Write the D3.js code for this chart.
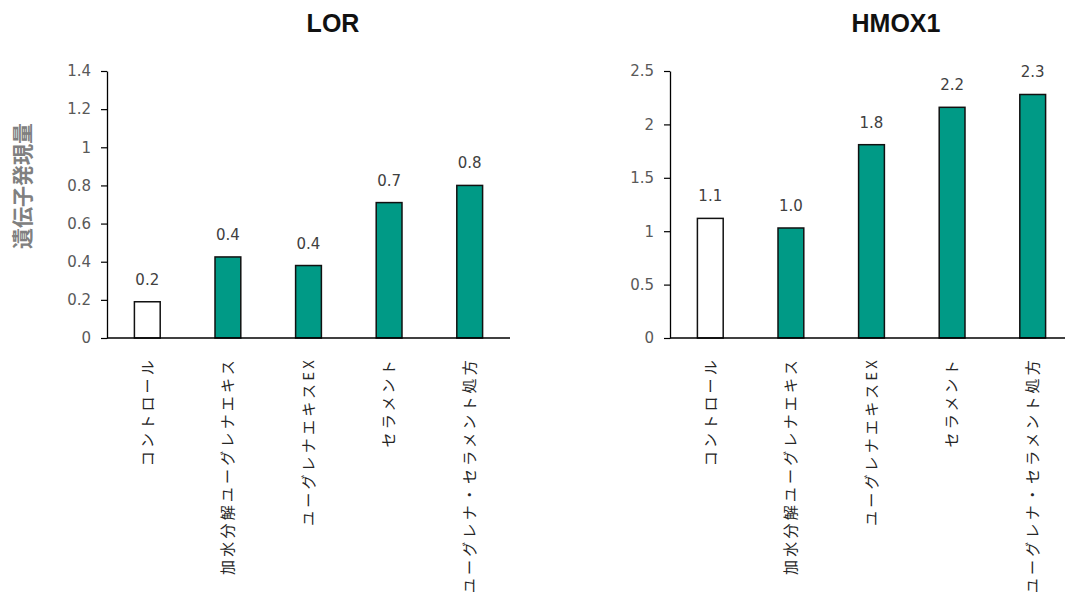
<!DOCTYPE html>
<html>
<head>
<meta charset="utf-8">
<script src="https://cdn.jsdelivr.net/npm/d3@7/dist/d3.min.js"></script>
<style>
  html, body { margin: 0; padding: 0; background: #fff; }
  svg { display: block; }
</style>
</head>
<body>
<svg id="chart" width="1065" height="607"></svg>
<script>
// Treatment groups shared by both panels
const categories = [
  "コントロール",
  "加水分解ユーグレナエキス",
  "ユーグレナエキスEX",
  "セラメント",
  "ユーグレナ・セラメント処方"
];

// Relative expression per gene
const lorValues = [0.19, 0.425, 0.38, 0.71, 0.80];
const hmox1Values = [1.12, 1.03, 1.81, 2.16, 2.28];

// Axis ticks per gene
const lorTicks = [0, 0.2, 0.4, 0.6, 0.8, 1, 1.2, 1.4];
const hmox1Ticks = [0, 0.5, 1, 1.5, 2, 2.5];

const yAxisTitle = "遺伝子発現量";

const svg = d3.select("#chart");
const plotTop = 71, plotBottom = 338;
const numFont = "'DejaVu Sans', Verdana, sans-serif";
const jpFont = "'Noto Sans CJK JP', sans-serif";
const teal = "#009a86";

// Shared y-axis title
svg.append("text")
  .attr("transform", `translate(30,186) rotate(-90)`)
  .attr("text-anchor", "middle")
  .attr("font-family", jpFont)
  .attr("font-size", 21)
  .attr("font-weight", "bold")
  .attr("fill", "#808080")
  .text(yAxisTitle);

function panel(opts) {
  const { title, values, ticks, x0, x1, titleX } = opts;
  const g = svg.append("g");

  const x = d3.scaleBand().domain(categories).range([x0, x1]).paddingInner(0.68).paddingOuter(0.34);
  const y = d3.scaleLinear().domain([0, d3.max(ticks)]).range([plotBottom, plotTop]);

  // Title
  g.append("text")
    .attr("x", titleX).attr("y", 32)
    .attr("text-anchor", "middle")
    .attr("font-family", "'Liberation Sans', Arial, sans-serif")
    .attr("font-weight", "bold")
    .attr("font-size", 25)
    .attr("fill", "#111")
    .text(title);

  // Y axis
  const yAxis = g.append("g")
    .attr("transform", `translate(${x0},0)`)
    .call(d3.axisLeft(y).tickValues(ticks).tickFormat(d3.format("")).tickSize(6).tickSizeOuter(0).tickPadding(10));
  yAxis.select(".domain").attr("stroke", "#000").attr("stroke-width", 1.3);
  yAxis.selectAll(".tick line").attr("stroke", "#000").attr("stroke-width", 1.2);
  yAxis.selectAll(".tick text")
    .attr("font-family", numFont)
    .attr("font-size", 15)
    .attr("fill", "#595959");

  // Bars
  g.selectAll("rect.bar")
    .data(values)
    .join("rect")
    .attr("class", "bar")
    .attr("x", (d, i) => x(categories[i]))
    .attr("width", x.bandwidth())
    .attr("y", d => y(d))
    .attr("height", d => y(0) - y(d))
    .attr("fill", (d, i) => i === 0 ? "#fff" : teal)
    .attr("stroke", "#111")
    .attr("stroke-width", 1.5);

  // X baseline
  g.append("line")
    .attr("x1", x0).attr("x2", x1)
    .attr("y1", y(0)).attr("y2", y(0))
    .attr("stroke", "#000").attr("stroke-width", 1.3);

  // Value labels
  g.selectAll("text.val")
    .data(values)
    .join("text")
    .attr("class", "val")
    .attr("x", (d, i) => x(categories[i]) + x.bandwidth() / 2)
    .attr("y", d => y(d) - 17)
    .attr("text-anchor", "middle")
    .attr("font-family", numFont)
    .attr("font-size", 15)
    .attr("fill", "#404040")
    .text(d => d.toFixed(1));

  // Category labels, reading bottom-to-top and hanging under the axis
  g.selectAll("text.cat")
    .data(categories)
    .join("text")
    .attr("class", "cat")
    .attr("transform", d => `translate(${x(d) + x.bandwidth() / 2},357) rotate(-90)`)
    .attr("dy", "0.35em")
    .attr("text-anchor", "end")
    .attr("font-family", jpFont)
    .attr("font-size", 15)
    .attr("letter-spacing", "3.2px")
    .attr("fill", "#262626")
    .text(d => d);
}

panel({ title: "LOR", values: lorValues, ticks: lorTicks, x0: 107, x1: 510, titleX: 333 });
panel({ title: "HMOX1", values: hmox1Values, ticks: hmox1Ticks, x0: 670, x1: 1073, titleX: 896 });
</script>
</body>
</html>
